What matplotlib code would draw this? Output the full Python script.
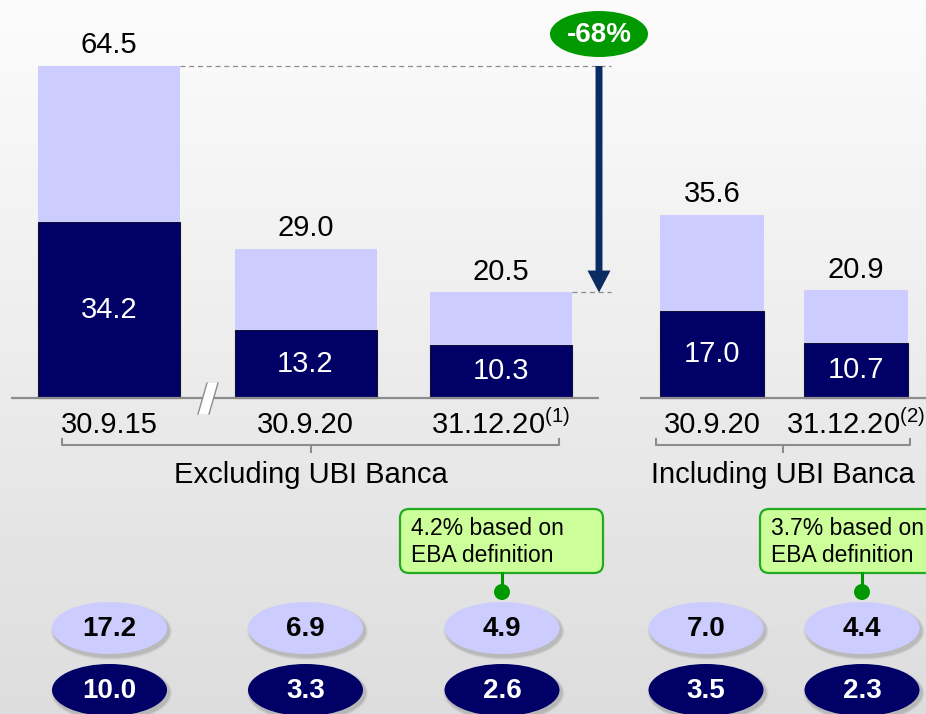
import numpy as np
import matplotlib
matplotlib.use('Agg')
import matplotlib.pyplot as plt
from matplotlib.patches import Ellipse, FancyBboxPatch, Polygon, Circle, FancyArrowPatch

plt.rcParams['font.family'] = ['Liberation Sans', 'DejaVu Sans']
plt.rcParams['mathtext.fontset'] = 'custom'
plt.rcParams['mathtext.rm'] = 'Liberation Sans'

# ---------------- data ----------------
categories = ['30.9.15', '30.9.20', '31.12.20', '30.9.20', '31.12.20']
footnotes = ['', '', '(1)', '', '(2)']
groups = ['Excluding UBI Banca', 'Including UBI Banca']
total_values = [64.5, 29.0, 20.5, 35.6, 20.9]
dark_values = [34.2, 13.2, 10.3, 17.0, 10.7]
light_ratio = [17.2, 6.9, 4.9, 7.0, 4.4]
dark_ratio = [10.0, 3.3, 2.6, 3.5, 2.3]
callout_texts = ['', '', '4.2% based on\nEBA definition', '', '3.7% based on\nEBA definition']
change_label = '-68%'

# ---------------- layout ----------------
W, H = 926, 714
DARK = '#000066'
LIGHT = '#CCCCFF'
GREEN = '#009900'
GREY = '#8c8c8c'
px_per_unit = 5.147
base_px = 398

x_pos = [109, 305.5, 501, 712, 855.5]
widths = [142, 142, 142, 104, 104]
ell_x = [109.5, 305.5, 502, 706, 862]
group_brackets = [(62, 559), (656, 910)]
axis_segments = [(11, 599), (640, W)]

fig = plt.figure(figsize=(W / 100, H / 100), dpi=100)
ax = fig.add_axes([0, 0, 1, 1])
ax.set_xlim(0, W)
y0, y1 = -(H - base_px) / px_per_unit, base_px / px_per_unit
ax.set_ylim(y0, y1)
ax.axis('off')

# background gradient
grad = np.linspace(0.985, 0.865, 200).reshape(-1, 1)
ax.imshow(grad, extent=[0, W, y0, y1], aspect='auto', cmap='gray', vmin=0, vmax=1,
          zorder=0, interpolation='bilinear')

# bars
light_values = [t - d for t, d in zip(total_values, dark_values)]
ax.bar(x_pos, dark_values, width=widths, color=DARK, edgecolor='#111133', linewidth=0.8, zorder=2)
ax.bar(x_pos, light_values, bottom=dark_values, width=widths, color=LIGHT, linewidth=0, zorder=2)

for x, t, d in zip(x_pos, total_values, dark_values):
    ax.annotate(f'{t:.1f}', (x, t), xytext=(0, 15), textcoords='offset points',
                ha='center', va='center', fontsize=21, color='black', zorder=4)
    ax.text(x, d / 2, f'{d:.1f}', ha='center', va='center', fontsize=21, color='white', zorder=4)

# axis lines
for a, b in axis_segments:
    ax.plot([a, b], [0, 0], color=GREY, lw=1.6, zorder=3, solid_capstyle='butt')

# dashed reference lines and arrow
arrow_x = 599
ax.plot([x_pos[0] + widths[0] / 2, 611], [total_values[0]] * 2, color=GREY, lw=0.9,
        ls=(0, (4, 3)), zorder=3)
ax.plot([x_pos[2] + widths[2] / 2, 611], [total_values[2]] * 2, color=GREY, lw=0.9,
        ls=(0, (4, 3)), zorder=3)
arr = FancyArrowPatch((arrow_x, total_values[0]), (arrow_x, total_values[2]),
                      arrowstyle='simple,tail_width=0.5,head_width=1.66,head_length=1.58',
                      mutation_scale=10, color='#0B2C63', lw=0, shrinkA=0, shrinkB=0, zorder=4)
ax.add_patch(arr)

# ---------------- overlay (pixel coords) ----------------
ov = fig.add_axes([0, 0, 1, 1])
ov.set_xlim(0, W)
ov.set_ylim(H, 0)
ov.axis('off')
ov.patch.set_alpha(0)

# axis break marker
ov.add_patch(Polygon([(198, 414), (207, 383), (218, 383), (209, 414)], closed=True,
                     fc='white', ec='none', zorder=5))
ov.plot([198, 207], [414, 383], color=GREY, lw=1.0, zorder=6)
ov.plot([209, 218], [414, 383], color=GREY, lw=1.0, zorder=6)

# category labels
for x, c, f in zip(x_pos, categories, footnotes):
    label = c + (r'$^{\mathrm{' + f + '}}$' if f else '')
    ov.text(x, 425, label, ha='center', va='center', fontsize=21, color='black')

# group brackets
for (a, b), g in zip(group_brackets, groups):
    m = (a + b) / 2
    ov.plot([a, a, b, b], [439, 445, 445, 439], color=GREY, lw=1.5, zorder=3)
    ov.plot([m, m], [445, 452], color=GREY, lw=1.5, zorder=3)
    ov.text(m, 475, g, ha='center', va='center', fontsize=21, color='black')

# callouts
for ex, txt in zip(ell_x, callout_texts):
    if not txt:
        continue
    left = ex - 102
    box = FancyBboxPatch((left, 509), 203, 64, boxstyle='round,pad=0,rounding_size=9',
                         fc='#CCFF99', ec='#22AA22', lw=1.6, zorder=5)
    ov.add_patch(box)
    ov.text(left + 11, 542, txt, ha='left', va='center', fontsize=16.5,
            linespacing=1.18, color='black', zorder=6)
    ov.plot([ex, ex], [573, 592], color=GREEN, lw=2.2, zorder=5)
    ov.add_patch(Circle((ex, 592), 8, fc=GREEN, ec='none', zorder=6))

# ratio ellipses
for ex, lv, dv in zip(ell_x, light_ratio, dark_ratio):
    for cy, val, fc, tc in [(628, lv, LIGHT, 'black'), (690, dv, DARK, 'white')]:
        for k, al in [(6, 0.04), (4, 0.06), (2, 0.08)]:
            ov.add_patch(Ellipse((ex + 2, cy + 3), 115 + k, 52 + k, fc='black', ec='none',
                                 alpha=al, zorder=4))
        ov.add_patch(Ellipse((ex, cy), 115, 52, fc=fc, ec='none', zorder=5))
        ov.text(ex, cy + 1, f'{val:.1f}', ha='center', va='center', fontsize=20,
                fontweight='bold', color=tc, zorder=6)

# change badge
ov.add_patch(Ellipse((arrow_x, 34), 98, 46, fc=GREEN, ec='none', zorder=5))
ov.text(arrow_x, 35, change_label, ha='center', va='center', fontsize=20,
        fontweight='bold', color='white', zorder=6)

fig.savefig('out.png', dpi=100)
